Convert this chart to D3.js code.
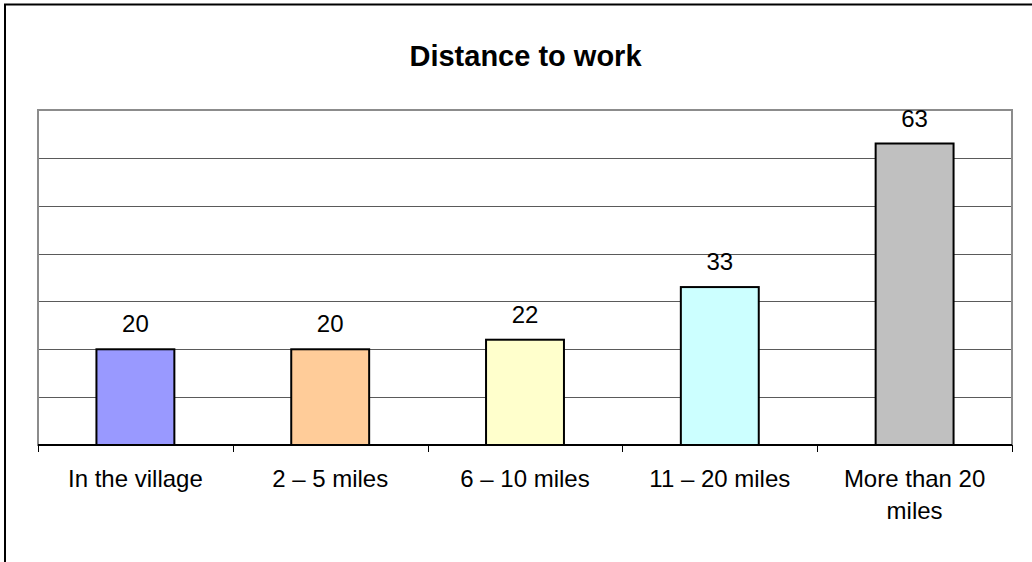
<!DOCTYPE html>
<html>
<head>
<meta charset="utf-8">
<script src="https://cdn.jsdelivr.net/npm/d3@7"></script>
<style>
  html, body { margin: 0; padding: 0; background: #fff; }
  svg { display: block; font-family: "Liberation Sans", Arial, sans-serif; }
</style>
</head>
<body>
<svg id="chart" width="1032" height="562"></svg>
<script>
const title = "Distance to work";
const categories = ["In the village", "2 – 5 miles", "6 – 10 miles", "11 – 20 miles", "More than 20 miles"];
const values = [20, 20, 22, 33, 63];
const colors = ["#9999FF", "#FFCC99", "#FFFFCC", "#CCFFFF", "#C0C0C0"];
const yTicks = [10, 20, 30, 40, 50, 60, 70];

const svg = d3.select("#chart");
const plot = { left: 38, top: 110, right: 1012, bottom: 445 };

// outer chart border
svg.append("rect")
  .attr("x", 5).attr("y", 4.5)
  .attr("width", 1100).attr("height", 700)
  .attr("fill", "#fff").attr("stroke", "#000").attr("stroke-width", 2);

const x = d3.scaleBand().domain(categories).range([plot.left, plot.right]).padding(0);
const y = d3.scaleLinear().domain([0, 70]).range([plot.bottom, plot.top]);

// gridlines
svg.append("g").selectAll("line").data(yTicks.filter(t => t < 70)).join("line")
  .attr("x1", plot.left).attr("x2", plot.right)
  .attr("y1", d => Math.round(y(d)) + 0.5).attr("y2", d => Math.round(y(d)) + 0.5)
  .attr("stroke", "#5a5a5a").attr("stroke-width", 1);

// plot area border (gray)
svg.append("rect")
  .attr("x", plot.left).attr("y", plot.top)
  .attr("width", plot.right - plot.left).attr("height", plot.bottom - plot.top)
  .attr("fill", "none").attr("stroke", "#8c8c8c").attr("stroke-width", 2);

// bars
const barW = x.bandwidth() * 0.4;
svg.append("g").selectAll("rect").data(values).join("rect")
  .attr("x", (d, i) => x(categories[i]) + (x.bandwidth() - barW) / 2)
  .attr("y", d => y(d))
  .attr("width", barW)
  .attr("height", d => y(0) - y(d))
  .attr("fill", (d, i) => colors[i])
  .attr("stroke", "#000").attr("stroke-width", 2);

// value labels
svg.append("g").selectAll("text").data(values).join("text")
  .attr("x", (d, i) => x(categories[i]) + x.bandwidth() / 2)
  .attr("y", d => y(d) - 17)
  .attr("text-anchor", "middle")
  .attr("font-size", 24)
  .attr("fill", "#000")
  .text(d => d);

// x axis
const xAxis = d3.axisBottom(x).tickSize(0).tickFormat("");
const gx = svg.append("g").attr("transform", `translate(0,${plot.bottom})`).call(xAxis);
gx.select(".domain").attr("stroke", "#000").attr("stroke-width", 2).attr("d", `M${plot.left},0H${plot.right}`);
// tick marks at category boundaries
const bounds = categories.map(c => x(c)).concat([plot.right]);
gx.selectAll("line.bound").data(bounds).join("line").attr("class", "bound")
  .attr("x1", d => Math.round(d) + 0.5).attr("x2", d => Math.round(d) + 0.5)
  .attr("y1", 0).attr("y2", 7)
  .attr("stroke", "#000").attr("stroke-width", 1);

// category labels with wrapping
const labelG = svg.append("g");
categories.forEach(c => {
  const t = labelG.append("text")
    .attr("x", x(c) + x.bandwidth() / 2)
    .attr("y", 487)
    .attr("text-anchor", "middle")
    .attr("font-size", 24)
    .attr("fill", "#000");
  const words = c.split(" ");
  let line = [];
  let tspan = t.append("tspan").attr("x", x(c) + x.bandwidth() / 2).attr("dy", 0);
  words.forEach(w => {
    line.push(w);
    tspan.text(line.join(" "));
    if (tspan.node().getComputedTextLength() > 185 && line.length > 1) {
      line.pop();
      tspan.text(line.join(" "));
      line = [w];
      tspan = t.append("tspan").attr("x", x(c) + x.bandwidth() / 2).attr("dy", 32).text(w);
    }
  });
});

// title
svg.append("text")
  .attr("x", 525.5).attr("y", 66)
  .attr("text-anchor", "middle")
  .attr("font-size", 29)
  .attr("font-weight", "bold")
  .attr("fill", "#000")
  .text(title);
</script>
</body>
</html>
